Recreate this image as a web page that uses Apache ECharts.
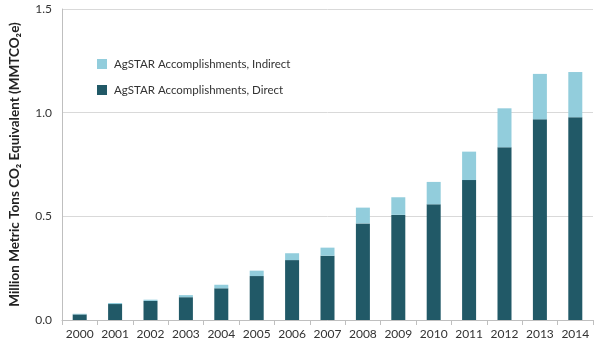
<!DOCTYPE html>
<html>
<head>
<meta charset="utf-8">
<script src="https://cdn.jsdelivr.net/npm/echarts@6/dist/echarts.min.js"></script>
<style>
  html, body { margin: 0; padding: 0; background: #fff; }
  #main { width: 600px; height: 350px; }
</style>
</head>
<body>
<div id="main"></div>
<script>
const years = ["2000", "2001", "2002", "2003", "2004", "2005", "2006", "2007",
  "2008", "2009", "2010", "2011", "2012", "2013", "2014"];
// direct reductions (MMTCO2e)
const direct = [0.027, 0.077, 0.092, 0.110, 0.153, 0.212, 0.289, 0.310,
  0.466, 0.507, 0.558, 0.675, 0.833, 0.968, 0.978];
// indirect part stacked on top
const indirect = [0.003, 0.005, 0.006, 0.010, 0.017, 0.026, 0.033, 0.039,
  0.076, 0.085, 0.108, 0.137, 0.188, 0.219, 0.218];
const yTicks = [0, 0.5, 1.0, 1.5];

const myChart = echarts.init(document.getElementById("main"));
const font = "Lato, 'Open Sans', sans-serif";

const option = {
  animation: false,
  textStyle: { fontFamily: font },
  grid: { left: 57, right: 7, top: 9, bottom: 30 },
  legend: {
    orient: "vertical",
    left: 92,
    top: 53,
    itemGap: 14,
    itemWidth: 10,
    itemHeight: 10,
    icon: "rect",
    data: ["AgSTAR Accomplishments, Indirect", "AgSTAR Accomplishments, Direct"],
    textStyle: { fontFamily: font, fontSize: 11.5, color: "#333", padding: [0, 0, 0, 2] }
  },
  xAxis: {
    type: "category",
    data: years,
    axisLine: { lineStyle: { color: "#bfbfbf" } },
    axisTick: { show: true, lineStyle: { color: "#bfbfbf" } },
    axisLabel: { interval: 0, color: "#333", fontSize: 12, margin: 8, fontFamily: font }
  },
  yAxis: {
    type: "value",
    min: 0,
    max: 1.5,
    interval: 0.5,
    name: "Million Metric Tons CO\u2082 Equivalent (MMTCO\u2082e)",
    nameLocation: "middle",
    nameGap: 40,
    nameTextStyle: { fontWeight: "bold", fontSize: 13.5, color: "#222", fontFamily: font },
    axisLine: { show: true, lineStyle: { color: "#bfbfbf" } },
    axisTick: { show: false },
    splitLine: { lineStyle: { color: "#d9d9d9" } },
    axisLabel: {
      color: "#333",
      fontSize: 12,
      margin: 10,
      fontFamily: font,
      formatter: v => yTicks.includes(v) ? v.toFixed(1) : ""
    }
  },
  series: [
    {
      name: "AgSTAR Accomplishments, Direct",
      type: "bar",
      stack: "total",
      barWidth: 14,
      itemStyle: { color: "#215967" },
      data: direct
    },
    {
      name: "AgSTAR Accomplishments, Indirect",
      type: "bar",
      stack: "total",
      barWidth: 14,
      itemStyle: { color: "#92cddc" },
      data: indirect
    }
  ]
};
myChart.setOption(option);
</script>
</body>
</html>
